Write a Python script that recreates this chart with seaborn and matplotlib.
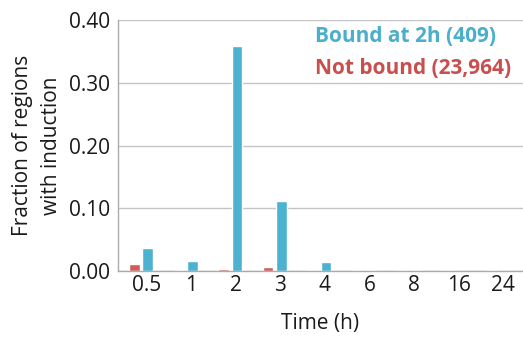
import matplotlib
matplotlib.use("Agg")
import matplotlib.pyplot as plt
import seaborn as sns
import pandas as pd

times = ["0.5", "1", "2", "3", "4", "6", "8", "16", "24"]
bound = [0.036, 0.016, 0.359, 0.112, 0.014, 0.002, 0.002, 0.0, 0.0]
not_bound = [0.011, 0.002, 0.003, 0.007, 0.001, 0.001, 0.001, 0.002, 0.001]
series_names = ["Not bound", "Bound at 2h"]
legend_labels = ["Bound at 2h (409)", "Not bound (23,964)"]
yticks = [0.0, 0.1, 0.2, 0.3, 0.4]

blue = "#4BB3CF"
red = "#D05B5B"

df = pd.DataFrame({
    "Time": times * 2,
    "Fraction": not_bound + bound,
    "Group": [series_names[0]] * len(times) + [series_names[1]] * len(times),
})

sns.set_theme(style="white")
plt.rcParams["font.family"] = ["Open Sans", "DejaVu Sans"]

fig = plt.figure(figsize=(5.23, 3.43), dpi=100)
ax = fig.add_axes([0.2256, 0.2099, 0.7744, 0.7318])

sns.barplot(data=df, x="Time", y="Fraction", hue="Group", order=times,
            hue_order=series_names, palette=[red, blue], width=0.6, gap=0.22,
            ax=ax, legend=False, saturation=1)

ax.set_xlim(-0.516, 8.56)
ax.set_ylim(0, 0.40)
ax.set_yticks(yticks)
ax.set_yticklabels([f"{v:.2f}" for v in yticks])
ax.set_xticks([i + 0.12 for i in range(len(times))])
ax.set_xticklabels(times)
ax.yaxis.grid(True, color="#C4C4C4", linewidth=1.0)
ax.set_axisbelow(True)
ax.tick_params(axis="both", length=0, labelsize=15, colors="#1a1a1a")
ax.tick_params(axis="y", pad=6)
ax.tick_params(axis="x", pad=3)
for s in ["top", "right"]:
    ax.spines[s].set_visible(False)
for s in ["left", "bottom"]:
    ax.spines[s].set_color("#ABABAB")
    ax.spines[s].set_linewidth(1.0)

ax.set_xlabel("Time (h)", fontsize=15, color="#1a1a1a", labelpad=12)
ax.set_ylabel("Fraction of regions\nwith induction", fontsize=15,
              color="#1a1a1a", labelpad=5, linespacing=1.45)

ax.text(0.487, 0.935, legend_labels[0], transform=ax.transAxes, color="#4AAFCB",
        fontsize=15, fontweight="bold", ha="left", va="center")
ax.text(0.487, 0.805, legend_labels[1], transform=ax.transAxes, color="#C94F4F",
        fontsize=15, fontweight="bold", ha="left", va="center")

fig.savefig("out.png", dpi=100)
